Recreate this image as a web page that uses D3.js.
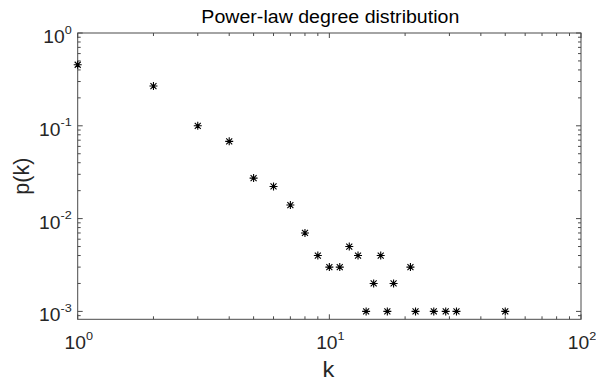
<!DOCTYPE html>
<html lang="en">
<head>
<meta charset="utf-8">
<title>Power-law degree distribution</title>
<script src="https://d3js.org/d3.v7.min.js"></script>
<style>
  body { margin: 0; background: #fff; }
  text { font-family: "Liberation Sans", Arial, sans-serif; fill: #262626; }
</style>
</head>
<body>
<div id="chart"></div>
<script>
// degree k and its probability p(k)
const degrees = [1, 2, 3, 4, 5, 6, 7, 8, 9, 10, 11, 12, 13, 14, 15, 16, 17, 18, 21, 22, 26, 29, 32, 50];
const probs = [0.455, 0.268, 0.1, 0.068, 0.0273, 0.0222, 0.014, 0.007, 0.004, 0.003, 0.003, 0.005,
               0.004, 0.001, 0.002, 0.004, 0.001, 0.002, 0.003, 0.001, 0.001, 0.001, 0.001, 0.001];
const xTicks = [1, 10, 100];
const xTickExp = ["0", "1", "2"];
const yTicks = [1, 0.1, 0.01, 0.001];
const yTickExp = ["0", "-1", "-2", "-3"];

const width = 596, height = 380;
const mLeft = 77.7, mRight = 581, mTop = 33, mBottom = 319.3;
const sx = 1.1; // glyphs in the reference are a bit wider than tall

const svg = d3.select("#chart").append("svg")
    .attr("width", width)
    .attr("height", height);

const x = d3.scaleLog().domain([1, 100]).range([mLeft, mRight]);
const yMin = Math.pow(10, -3 - (mBottom - 311.4) / 92.8);
const y = d3.scaleLog().domain([yMin, 1]).range([mBottom, mTop]);

// minor tick values
let xMinor = [];
[1, 10].forEach(d => { for (let m = 2; m <= 9; m++) xMinor.push(d * m); });
let yMinor = [];
[0.0001, 0.001, 0.01, 0.1].forEach(d => {
    for (let m = 2; m <= 9; m++) if (d * m >= yMin && d * m < 1) yMinor.push(d * m);
});

const axisColor = "#4a4a4a";
const g = svg.append("g").attr("stroke", axisColor).attr("stroke-width", 1);

// ticks, all pointing inwards
const tick = (x1, y1, x2, y2) => g.append("line")
    .attr("x1", x1).attr("y1", y1).attr("x2", x2).attr("y2", y2);

xTicks.forEach(d => { tick(x(d), mBottom, x(d), mBottom - 5); tick(x(d), mTop, x(d), mTop + 5); });
xMinor.forEach(d => { tick(x(d), mBottom, x(d), mBottom - 3); tick(x(d), mTop, x(d), mTop + 3); });
yTicks.forEach(d => { tick(mLeft, y(d), mLeft + 5, y(d)); tick(mRight, y(d), mRight - 5, y(d)); });
yMinor.forEach(d => { tick(mLeft, y(d), mLeft + 3, y(d)); tick(mRight, y(d), mRight - 3, y(d)); });

// box
g.append("rect")
    .attr("x", mLeft).attr("y", mTop)
    .attr("width", mRight - mLeft).attr("height", mBottom - mTop)
    .attr("fill", "none");

// tick labels as 10^n
function powLabel(px, py, exp, anchor) {
    const t = svg.append("text")
        .attr("transform", `translate(${px},${py}) scale(${sx},1)`)
        .attr("text-anchor", anchor)
        .attr("font-size", 17.5);
    t.append("tspan").text("10");
    t.append("tspan").attr("dy", -9.5).attr("font-size", 11.5).text(exp);
}
xTicks.forEach((d, i) => powLabel(x(d) + 1, mBottom + 30, xTickExp[i], "middle"));
yTicks.forEach((d, i) => powLabel(mLeft - 6, y(d) + 10, yTickExp[i], "end"));

// markers: MATLAB-style asterisk
const r = 4, rd = 3;
const star = `M${-r},0H${r}M0,${-r}V${r}M${-rd},${-rd}L${rd},${rd}M${-rd},${rd}L${rd},${-rd}`;
svg.append("g")
    .selectAll("path")
    .data(degrees)
    .enter()
    .append("path")
    .attr("transform", (d, i) => `translate(${x(d)},${y(probs[i])})`)
    .attr("d", star)
    .attr("stroke", "#000")
    .attr("stroke-width", 1.1)
    .attr("fill", "none");

// title and axis labels
svg.append("text")
    .attr("transform", `translate(${(mLeft + mRight) / 2 + 1},23) scale(1.12,1)`)
    .attr("text-anchor", "middle")
    .attr("font-size", 17.5)
    .style("fill", "#000")
    .text("Power-law degree distribution");

svg.append("text")
    .attr("transform", `translate(${(mLeft + mRight) / 2 - 1},376.5) scale(${sx},1)`)
    .attr("text-anchor", "middle")
    .attr("font-size", 21.5)
    .text("k");

svg.append("text")
    .attr("transform", `translate(28.5,${(mTop + mBottom) / 2}) rotate(-90)`)
    .attr("text-anchor", "middle")
    .attr("font-size", 21.5)
    .text("p(k)");
</script>
</body>
</html>
